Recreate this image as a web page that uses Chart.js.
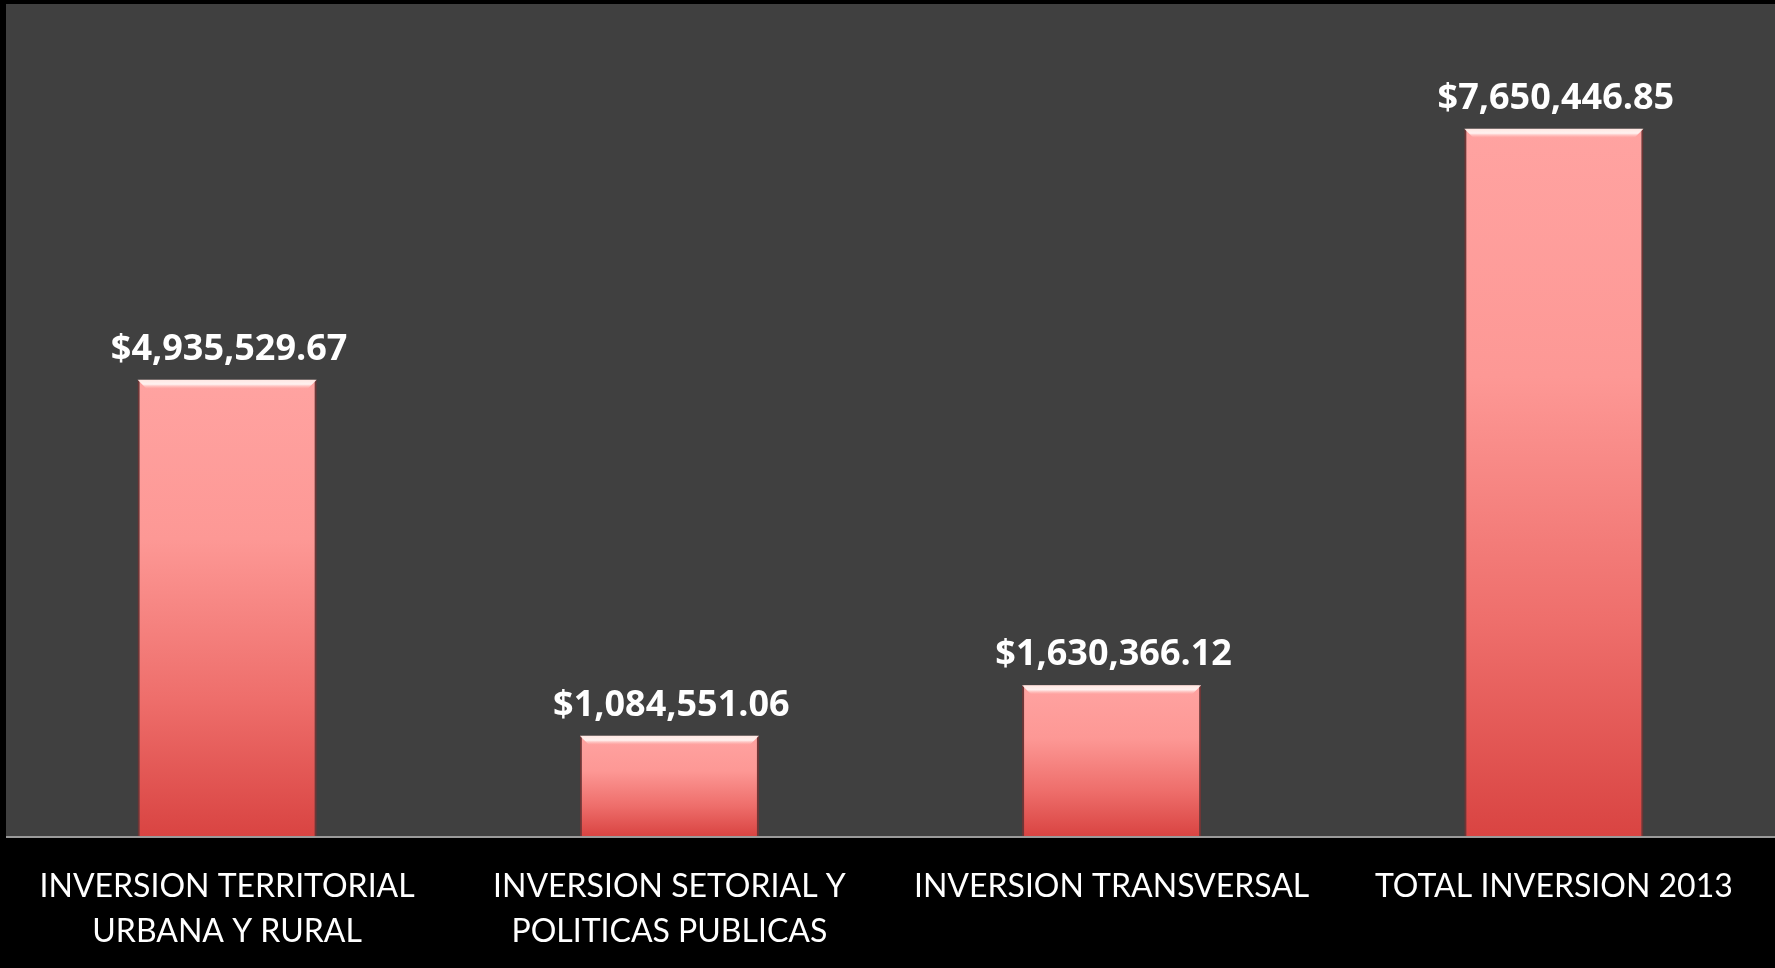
<!DOCTYPE html>
<html>
<head>
<meta charset="utf-8">
<script src="https://cdn.jsdelivr.net/npm/chart.js@4.4.1/dist/chart.umd.min.js"></script>
<style>
  html, body { margin: 0; padding: 0; background: #000; }
  #wrap { width: 1775px; height: 968px; }
</style>
</head>
<body>
<div id="wrap"><canvas id="c" width="1775" height="968"></canvas></div>
<script>
const categories = [
  ["INVERSION TERRITORIAL", "URBANA Y RURAL"],
  ["INVERSION SETORIAL Y", "POLITICAS PUBLICAS"],
  ["INVERSION TRANSVERSAL"],
  ["TOTAL INVERSION 2013"]
];
const values = [4935529.67, 1084551.06, 1630366.12, 7650446.85];
const valueLabels = ["$4,935,529.67", "$1,084,551.06", "$1,630,366.12", "$7,650,446.85"];
const yMax = 9000000;

const bgPlugin = {
  id: 'bg',
  beforeDraw(chart) {
    const {ctx, chartArea: a} = chart;
    ctx.save();
    ctx.fillStyle = '#000000';
    ctx.fillRect(0, 0, chart.width, chart.height);
    ctx.fillStyle = '#404040';
    ctx.fillRect(a.left, a.top, a.right - a.left, a.bottom - a.top);
    ctx.restore();
  },
  afterDatasetsDraw(chart) {
    const {ctx, chartArea: a} = chart;
    const meta = chart.getDatasetMeta(0);
    ctx.save();
    // axis line
    ctx.strokeStyle = '#9a9a9a';
    ctx.lineWidth = 2;
    ctx.beginPath();
    ctx.moveTo(a.left, a.bottom + 1);
    ctx.lineTo(a.right, a.bottom + 1);
    ctx.stroke();
    // bevel highlight at bar tops
    meta.data.forEach((bar) => {
      const w = bar.width;
      const l = bar.x - w / 2, r = bar.x + w / 2, t = bar.y;
      const g = ctx.createLinearGradient(0, t, 0, t + 9);
      g.addColorStop(0, 'rgba(255,235,230,0.95)');
      g.addColorStop(0.5, 'rgba(255,250,248,0.9)');
      g.addColorStop(1, 'rgba(255,200,196,0)');
      ctx.fillStyle = g;
      ctx.beginPath();
      ctx.moveTo(l, t);
      ctx.lineTo(r, t);
      ctx.lineTo(r - 9, t + 9);
      ctx.lineTo(l + 9, t + 9);
      ctx.closePath();
      ctx.fill();
    });
    // value labels
    ctx.fillStyle = '#ffffff';
    ctx.font = 'bold 36px "Open Sans", sans-serif';
    ctx.textAlign = 'center';
    ctx.textBaseline = 'alphabetic';
    meta.data.forEach((bar, i) => {
      ctx.fillText(valueLabels[i], bar.x + 2, bar.y - 20);
    });
    ctx.restore();
  }
};

new Chart(document.getElementById('c'), {
  type: 'bar',
  data: {
    labels: categories,
    datasets: [{
      data: values,
      barPercentage: 0.405,
      categoryPercentage: 1.0,
      borderWidth: {left: 2, right: 2, top: 0, bottom: 0},
      borderColor: 'rgba(150,45,45,0.55)',
      borderSkipped: false,
      backgroundColor: (c) => {
        const chart = c.chart;
        if (!chart.chartArea || c.type !== 'data') return '#f08080';
        const y = chart.scales.y;
        const top = y.getPixelForValue(c.raw);
        const bot = y.getPixelForValue(0);
        const g = chart.ctx.createLinearGradient(0, top, 0, bot);
        g.addColorStop(0, '#ffa3a1');
        g.addColorStop(0.35, '#fd9895');
        g.addColorStop(0.7, '#ee6e6b');
        g.addColorStop(1, '#d94442');
        return g;
      }
    }]
  },
  options: {
    responsive: false,
    animation: false,
    devicePixelRatio: 1,
    layout: { padding: { left: 6, top: 4, right: 0, bottom: 0 } },
    plugins: { legend: { display: false }, tooltip: { enabled: false } },
    scales: {
      y: { display: false, min: 0, max: yMax },
      x: {
        grid: { display: false, drawTicks: false },
        border: { display: false },
        ticks: {
          color: '#ffffff',
          padding: 28,
          maxRotation: 0,
          autoSkip: false,
          font: { family: 'Lato, "Open Sans", sans-serif', size: 32, lineHeight: 1.42 }
        },
        afterFit(scale) { scale.height = 132; }
      }
    }
  },
  plugins: [bgPlugin]
});
</script>
</body>
</html>
